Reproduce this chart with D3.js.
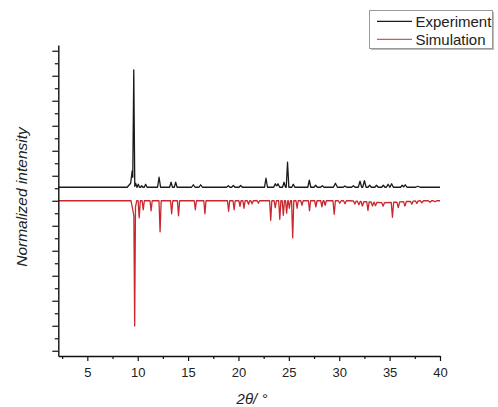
<!DOCTYPE html>
<html>
<head>
<meta charset="utf-8">
<script src="https://cdn.jsdelivr.net/npm/d3@7"></script>
<style>
  html, body { margin: 0; padding: 0; background: #fff; }
  svg { display: block; }
  text { font-family: "Liberation Sans", Arial, sans-serif; fill: #222; }
</style>
</head>
<body>
<svg id="chart" width="498" height="407"></svg>
<script>
// ---------- data ----------
// x range of the scan, in degrees 2θ
const thetaRange = [2.12, 40];
// y range in arbitrary normalized units (one major tick = 1 unit)
const intensityRange = [-6.21, 6.23];

const xMajorTicks = [5, 10, 15, 20, 25, 30, 35, 40];
const xMinorTicks = [2.5, 7.5, 12.5, 17.5, 22.5, 27.5, 32.5, 37.5];
const yMajorTicks = [-6, -5, -4, -3, -2, -1, 0, 1, 2, 3, 4, 5, 6];
const yMinorTicks = [-5.5, -4.5, -3.5, -2.5, -1.5, -0.5, 0.5, 1.5, 2.5, 3.5, 4.5, 5.5];

const seriesNames = ["Experiment", "Simulation"];

// Experiment pattern (offset upward)
const expBaseline = 0.54;
const expTheta = [9.30, 9.45, 9.61, 9.80, 10.06, 10.40, 10.79, 12.12, 13.31, 13.77,
  15.52, 16.25, 18.99, 19.49, 20.22, 22.73, 23.66, 23.92, 24.52, 24.87,
  25.44, 27.03, 27.66, 28.32, 29.62, 30.57, 31.40, 32.06, 32.50, 33.02,
  33.70, 34.37, 34.85, 35.20, 36.25, 36.55, 37.80];
const expIntensity = [0.16, 0.56, 4.68, 0.16, 0.12, 0.06, 0.12, 0.40, 0.20, 0.20,
  0.10, 0.10, 0.06, 0.07, 0.07, 0.36, 0.14, 0.14, 0.20, 1.00,
  0.12, 0.28, 0.08, 0.06, 0.16, 0.05, 0.06, 0.24, 0.26, 0.08,
  0.08, 0.08, 0.12, 0.14, 0.08, 0.10, 0.04];
const expHalfWidth = [0.35, 0.15, 0.10, 0.12, 0.12, 0.12, 0.14, 0.15, 0.14, 0.14,
  0.17, 0.17, 0.17, 0.17, 0.17, 0.15, 0.17, 0.17, 0.15, 0.13,
  0.15, 0.15, 0.17, 0.17, 0.20, 0.17, 0.17, 0.17, 0.17, 0.17,
  0.17, 0.17, 0.17, 0.17, 0.17, 0.17, 0.22];

// Simulated pattern (drawn downward)
const simBaseline = 0;
const simTheta = [9.62, 9.70, 10.15, 10.55, 11.33, 12.22, 13.37, 14.05, 15.72, 16.67,
  19.02, 19.57, 20.15, 20.55, 21.00, 21.35, 21.98, 23.20, 23.65, 24.10,
  24.45, 24.78, 25.05, 25.38, 25.82, 26.30, 27.05, 27.68, 28.28, 28.60,
  29.50, 30.05, 30.57, 31.55, 31.95, 32.30, 32.85, 33.30, 33.60, 34.35,
  35.28, 35.86, 36.52, 37.20, 37.70, 38.20, 39.00, 39.50, 34.50];
const simIntensity = [-0.60, -4.58, -0.68, -0.36, -0.40, -1.24, -0.52, -0.60, -0.36, -0.52,
  -0.42, -0.36, -0.22, -0.30, -0.14, -0.12, -0.10, -0.78, -0.28, -0.74,
  -0.58, -0.50, -0.30, -1.48, -0.30, -0.18, -0.40, -0.24, -0.24, -0.18,
  -0.54, -0.10, -0.12, -0.12, -0.14, -0.18, -0.34, -0.16, -0.14, -0.14,
  -0.60, -0.22, -0.18, -0.12, -0.10, -0.08, -0.06, -0.04, -0.08];
const simHalfWidth = [0.28, 0.08, 0.11, 0.11, 0.11, 0.11, 0.11, 0.11, 0.11, 0.11,
  0.11, 0.11, 0.11, 0.11, 0.12, 0.12, 0.12, 0.11, 0.11, 0.11,
  0.11, 0.11, 0.11, 0.11, 0.11, 0.12, 0.11, 0.12, 0.12, 0.12,
  0.12, 0.14, 0.14, 0.14, 0.14, 0.14, 0.12, 0.14, 0.14, 0.14,
  0.12, 0.14, 0.14, 0.14, 0.14, 0.17, 0.17, 0.17, 3.50];

// ---------- layout ----------
const svg = d3.select("#chart");
const plot = { left: 58.3, right: 440, top: 45, bottom: 356 };

const x = d3.scaleLinear().domain(thetaRange).range([plot.left, plot.right]);
const y = d3.scaleLinear().domain(intensityRange).range([plot.bottom, plot.top]);

// build a piecewise-linear profile (sum of narrow triangular peaks) from a peak list
function buildProfile(theta, inten, hw, base) {
  const xs = new Set(thetaRange);
  theta.forEach((t, i) => {
    [t - hw[i], t, t + hw[i]].forEach(v => {
      if (v > thetaRange[0] && v < thetaRange[1]) xs.add(+v.toFixed(4));
    });
  });
  return Array.from(xs).sort((a, b) => a - b).map(v => {
    let s = base;
    theta.forEach((t, i) => {
      const f = 1 - Math.abs(v - t) / hw[i];
      if (f > 0) s += inten[i] * f;
    });
    return [v, s];
  });
}

const line = d3.line().x(d => x(d[0])).y(d => y(d[1]));

const expColor = "#1a1a1a";
const simColor = "#c8282d";

svg.append("path")
  .datum(buildProfile(simTheta, simIntensity, simHalfWidth, simBaseline))
  .attr("fill", "none").attr("stroke", simColor).attr("stroke-width", 1.3)
  .attr("stroke-linejoin", "round")
  .attr("d", line);

svg.append("path")
  .datum(buildProfile(expTheta, expIntensity, expHalfWidth, expBaseline))
  .attr("fill", "none").attr("stroke", expColor).attr("stroke-width", 1.3)
  .attr("stroke-linejoin", "round")
  .attr("d", line);

// ---------- axes ----------
const axisStroke = "#111";

const gx = svg.append("g").attr("transform", `translate(0,${plot.bottom})`);
gx.call(d3.axisBottom(x).tickValues(xMajorTicks).tickSize(5).tickSizeOuter(0).tickPadding(7)
  .tickFormat(d3.format("d")));
gx.append("g").call(d3.axisBottom(x).tickValues(xMinorTicks).tickSize(3).tickSizeOuter(0).tickFormat(""))
  .select(".domain").remove();

const gy = svg.append("g").attr("transform", `translate(${plot.left},0)`);
gy.call(d3.axisLeft(y).tickValues(yMajorTicks).tickSize(6).tickSizeOuter(0).tickFormat(""));
gy.append("g").call(d3.axisLeft(y).tickValues(yMinorTicks).tickSize(3.5).tickSizeOuter(0).tickFormat(""))
  .select(".domain").remove();

svg.selectAll(".domain").attr("stroke", axisStroke).attr("stroke-width", 1.4);
svg.selectAll(".tick line").attr("stroke", axisStroke).attr("stroke-width", 1.2);
gx.selectAll(".tick text")
  .style("font-family", '"Liberation Sans", Arial, sans-serif')
  .style("font-size", "13px").attr("fill", "#333");

// axis titles
svg.append("text")
  .attr("x", 252).attr("y", 404)
  .attr("text-anchor", "middle")
  .style("font-size", "15px").style("font-style", "italic").attr("fill", "#333")
  .text("2θ/ °");

svg.append("text")
  .attr("transform", "translate(22,197) rotate(-90)")
  .attr("text-anchor", "middle").attr("dy", "0.35em")
  .style("font-size", "15.5px").style("font-style", "italic").attr("fill", "#333")
  .text("Normalized intensity");

// ---------- legend ----------
const legend = svg.append("g");
legend.append("rect")
  .attr("x", 371).attr("y", 12).attr("width", 123).attr("height", 38)
  .attr("fill", "#bbb");
legend.append("rect")
  .attr("x", 369.5).attr("y", 10.5).attr("width", 123).attr("height", 38)
  .attr("fill", "#fff").attr("stroke", "#999").attr("stroke-width", 1);

const legendColors = [expColor, "#cf5a5e"];
seriesNames.forEach((name, i) => {
  const ly = 21.3 + i * 18;
  legend.append("line")
    .attr("x1", 377).attr("x2", 412).attr("y1", ly).attr("y2", ly)
    .attr("stroke", legendColors[i]).attr("stroke-width", 1.2);
  legend.append("text")
    .attr("x", 415.5).attr("y", ly + 6)
    .style("font-size", "15px").attr("fill", "#222")
    .text(name);
});
</script>
</body>
</html>
